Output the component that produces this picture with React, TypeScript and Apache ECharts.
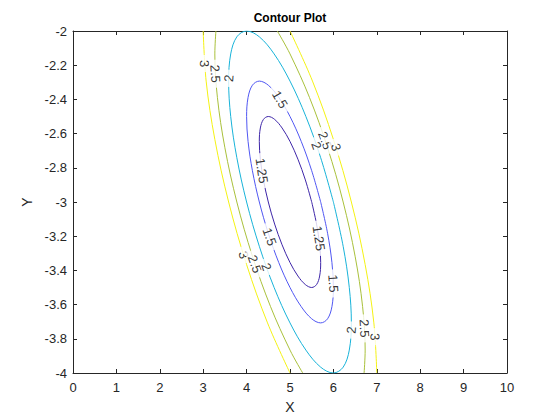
import React, { useEffect, useRef } from "react";
import * as echarts from "echarts";

// Contour levels and colours
const levels = [1.25, 1.5, 2, 2.5, 3];
const levelColors = ["#3e26a8", "#5057f2", "#18b3d9", "#a9c03b", "#f4f214"];

// Axis ranges
const xRange = [0, 10];
const yRange = [-4, -2];
const xStep = 1;
const yStep = 0.2;

// Contour lines (x, y)
const c125: [number, number][] = [
  [5.5, -3], [5.354, -2.871], [5.183, -2.75], [5.0, -2.646], [4.817, -2.567], [4.646, -2.517],
  [4.5, -2.5], [4.388, -2.517], [4.317, -2.567], [4.293, -2.646], [4.317, -2.75], [4.388, -2.871],
  [4.5, -3], [4.646, -3.129], [4.817, -3.25], [5.0, -3.354], [5.183, -3.433], [5.354, -3.483],
  [5.5, -3.5], [5.612, -3.483], [5.683, -3.433], [5.707, -3.354], [5.683, -3.25], [5.612, -3.129],
  [5.5, -3],
];
const c150: [number, number][] = [
  [5.707, -3], [5.5, -2.817], [5.259, -2.646], [5.0, -2.5], [4.741, -2.388], [4.5, -2.317],
  [4.293, -2.293], [4.134, -2.317], [4.034, -2.388], [4.0, -2.5], [4.034, -2.646], [4.134, -2.817],
  [4.293, -3], [4.5, -3.183], [4.741, -3.354], [5.0, -3.5], [5.259, -3.612], [5.5, -3.683],
  [5.707, -3.707], [5.866, -3.683], [5.966, -3.612], [6.0, -3.5], [5.966, -3.354], [5.866, -3.183],
  [5.707, -3],
];
const c200: [number, number][] = [
  [6, -3], [5.707, -2.741], [5.366, -2.5], [5, -2.293], [4.634, -2.134], [4.293, -2.034],
  [4, -2], [3.775, -2.034], [3.634, -2.134], [3.586, -2.293], [3.634, -2.5], [3.775, -2.741],
  [4, -3], [4.293, -3.259], [4.634, -3.5], [5, -3.707], [5.366, -3.866], [5.707, -3.966],
  [6, -4], [6.225, -3.966], [6.366, -3.866], [6.414, -3.707], [6.366, -3.5], [6.225, -3.259],
  [6, -3],
];
const c250Right: [number, number][] = [
  [6.707, -4], [6.732, -3.866], [6.673, -3.612], [6.5, -3.317], [6.225, -3], [5.866, -2.683],
  [5.448, -2.388], [5.0, -2.134], [4.707, -2],
];
const c250Left: [number, number][] = [
  [3.293, -2], [3.268, -2.134], [3.327, -2.388], [3.5, -2.683], [3.775, -3], [4.134, -3.317],
  [4.552, -3.612], [5.0, -3.866], [5.293, -4],
];
const c300Right: [number, number][] = [
  [7, -4], [6.932, -3.707], [6.732, -3.366], [6.414, -3], [6.0, -2.634], [5.518, -2.293], [5, -2],
];
const c300Left: [number, number][] = [
  [3, -2], [3.068, -2.293], [3.268, -2.634], [3.586, -3], [4.0, -3.366], [4.482, -3.707], [5, -4],
];

const contourLevel = [1.25, 1.5, 2, 2.5, 2.5, 3, 3];
const contourPaths = [c125, c150, c200, c250Right, c250Left, c300Right, c300Left];

// Inline contour labels
const labelLevel = [3, 2.5, 2, 1.5, 1.25, 2.5, 2, 3, 1.5, 1.25, 1.5, 3, 2.5, 2, 2, 2.5, 3];
const labelX = [3.03, 3.28, 3.59, 4.77, 4.35, 5.81, 5.61, 6.06, 4.53, 5.665, 6.0, 3.93, 4.19, 4.455, 6.41, 6.715, 6.96];
const labelY = [-2.19, -2.25, -2.277, -2.4, -2.817, -2.64, -2.67, -2.68, -3.203, -3.212, -3.476, -3.31, -3.363, -3.38, -3.749, -3.739, -3.788];

const FONT = "'Liberation Sans', Arial, Helvetica, sans-serif";
const AXIS_COLOR = "#262626";

function colorFor(level: number) {
  return levelColors[levels.indexOf(level)];
}

export default function App() {
  const ref = useRef<HTMLDivElement>(null);

  useEffect(() => {
    document.body.style.margin = "0";
    const chart = echarts.init(ref.current!, null, { renderer: "svg" });

    const axisLine = { show: true, onZero: false, lineStyle: { color: AXIS_COLOR, width: 1 } };
    const axisTick = { show: true, inside: true, length: 4, lineStyle: { color: AXIS_COLOR, width: 1 } };

    const lineSeries = contourPaths.map((pts, i) => ({
      type: "line",
      data: pts,
      symbol: "none",
      smooth: 0.35,
      xAxisIndex: 0,
      yAxisIndex: 0,
      silent: true,
      z: 2,
      lineStyle: { color: colorFor(contourLevel[i]), width: 1 },
    }));

    const baseOption: any = {
      animation: false,
      backgroundColor: "#fff",
      graphic: [
        {
          type: "text",
          x: 290,
          y: 18,
          style: {
            text: "Contour Plot",
            textAlign: "center",
            textVerticalAlign: "middle",
            verticalAlign: "middle",
            font: `bold 12px ${FONT}`,
            fill: "#000",
          },
        },
      ],
      grid: { left: 73, top: 31, width: 434, height: 342, containLabel: false },
      xAxis: [
        {
          type: "value",
          min: xRange[0],
          max: xRange[1],
          interval: xStep,
          position: "bottom",
          axisLine,
          axisTick,
          splitLine: { show: false },
          axisLabel: { color: AXIS_COLOR, fontSize: 13, margin: 8, fontFamily: FONT },
          name: "X",
          nameLocation: "middle",
          nameGap: 27,
          nameTextStyle: { color: AXIS_COLOR, fontSize: 14, fontFamily: FONT },
        },
        {
          type: "value",
          min: xRange[0],
          max: xRange[1],
          interval: xStep,
          position: "top",
          axisLine,
          axisTick,
          splitLine: { show: false },
          axisLabel: { show: false },
        },
      ],
      yAxis: [
        {
          type: "value",
          min: yRange[0],
          max: yRange[1],
          interval: yStep,
          position: "left",
          axisLine,
          axisTick,
          splitLine: { show: false },
          axisLabel: { color: AXIS_COLOR, fontSize: 13, margin: 6, fontFamily: FONT },
          name: "Y",
          nameLocation: "middle",
          nameRotate: 90,
          nameGap: 33,
          nameTextStyle: { color: AXIS_COLOR, fontSize: 14, fontFamily: FONT },
        },
        {
          type: "value",
          min: yRange[0],
          max: yRange[1],
          interval: yStep,
          position: "right",
          axisLine,
          axisTick,
          splitLine: { show: false },
          axisLabel: { show: false },
        },
      ],
      series: lineSeries,
    };

    chart.setOption(baseOption);

    // rotation of each label along its contour (pixel space)
    const pixelPaths = contourPaths.map((pts) =>
      pts.map((p) => chart.convertToPixel({ seriesIndex: 0 }, p) as number[])
    );
    const rotations = labelLevel.map((lv, k) => {
      const lp = chart.convertToPixel({ seriesIndex: 0 }, [labelX[k], labelY[k]]) as number[];
      let best = Infinity;
      let ang = 0;
      pixelPaths.forEach((pts, i) => {
        if (contourLevel[i] !== lv) return;
        for (let j = 0; j < pts.length - 1; j++) {
          const a = pts[j];
          const b = pts[j + 1];
          const dx = b[0] - a[0];
          const dy = b[1] - a[1];
          const len2 = dx * dx + dy * dy;
          let t = len2 > 0 ? ((lp[0] - a[0]) * dx + (lp[1] - a[1]) * dy) / len2 : 0;
          t = Math.max(0, Math.min(1, t));
          const px = a[0] + t * dx - lp[0];
          const py = a[1] + t * dy - lp[1];
          const d = px * px + py * py;
          if (d < best) {
            best = d;
            ang = (Math.atan2(-dy, dx) * 180) / Math.PI;
          }
        }
      });
      if (ang > 90) ang -= 180;
      if (ang <= -90) ang += 180;
      return ang;
    });

    const labelSeries = {
      type: "scatter",
      xAxisIndex: 0,
      yAxisIndex: 0,
      symbolSize: 1,
      silent: true,
      z: 5,
      itemStyle: { color: "rgba(0,0,0,0)" },
      data: labelLevel.map((lv, k) => ({
        value: [labelX[k], labelY[k]],
        label: {
          show: true,
          position: "inside",
          formatter: String(lv),
          rotate: rotations[k],
          fontSize: 13,
          fontFamily: FONT,
          color: "#000",
          backgroundColor: "#fff",
          padding: [0, 5],
          lineHeight: 11,
        },
      })),
    };

    chart.setOption({ series: [...lineSeries, labelSeries] });

    return () => {
      chart.dispose();
    };
  }, []);

  return <div ref={ref} style={{ width: 560, height: 420 }} />;
}
